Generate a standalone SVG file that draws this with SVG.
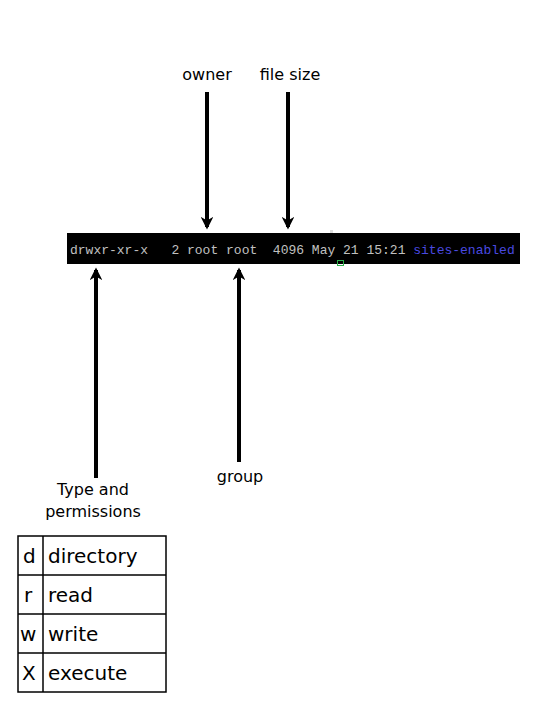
<svg xmlns="http://www.w3.org/2000/svg" width="540" height="720" viewBox="0 0 540 720">
<style>
.lbl{font-family:"DejaVu Sans","Liberation Sans",sans-serif;font-size:16px;fill:#000;text-anchor:middle}
.term{font-family:"Liberation Mono",monospace;font-size:13px;fill:#c0c0c0}
.tbl{font-family:"DejaVu Sans","Liberation Sans",sans-serif;font-size:20px;fill:#000}
.conn{stroke:#000;stroke-width:4;fill:none}
.cell{fill:none;stroke:#000;stroke-width:1.5}
</style>
<defs>
<marker id="ah" viewBox="0 0 10 10" refX="8" refY="5" markerWidth="3.2" markerHeight="3.2" orient="auto" markerUnits="strokeWidth">
<path d="M0,0 L10,5 L0,10 L3,5 z" fill="#000"/>
</marker>
</defs>
<rect width="540" height="720" fill="#fff"/>
<g id="terminal">
<rect x="67" y="233" width="453" height="31" fill="#000"/>
<text class="term" x="70" y="254" xml:space="preserve">drwxr-xr-x   2 root root  4096 May 21 15:21 <tspan fill="#4a4ae0">sites-enabled</tspan></text>
<rect x="330" y="230" width="3" height="3" fill="#ddd"/>
<rect x="337.5" y="260.5" width="6" height="5" fill="none" stroke="#2bb04a" stroke-width="1"/>
</g>
<g id="owner"><text class="lbl" x="207" y="80">owner</text></g>
<g id="filesize"><text class="lbl" x="290" y="80">file size</text></g>
<g id="group"><text class="lbl" x="240" y="482">group</text></g>
<g id="typeperm"><text class="lbl" x="93" y="495">Type and</text><text class="lbl" x="93" y="517">permissions</text></g>
<g id="connectors">
<line class="conn" x1="207" y1="92" x2="207" y2="227" marker-end="url(#ah)"/>
<line class="conn" x1="288" y1="92" x2="288" y2="227" marker-end="url(#ah)"/>
<line class="conn" x1="96" y1="478" x2="96" y2="270" marker-end="url(#ah)"/>
<line class="conn" x1="239" y1="462" x2="239" y2="270" marker-end="url(#ah)"/>
</g>
<g id="legend">
<rect class="cell" x="18" y="536" width="148" height="156"/>
<line class="cell" x1="18" y1="575" x2="166" y2="575"/>
<line class="cell" x1="18" y1="614" x2="166" y2="614"/>
<line class="cell" x1="18" y1="653" x2="166" y2="653"/>
<line class="cell" x1="43" y1="536" x2="43" y2="692"/>
<text class="tbl" x="23" y="563">d</text><text class="tbl" x="48" y="563">directory</text>
<text class="tbl" x="24" y="602">r</text><text class="tbl" x="48" y="602">read</text>
<text class="tbl" x="20" y="641">w</text><text class="tbl" x="48" y="641">write</text>
<text class="tbl" x="22" y="680">X</text><text class="tbl" x="48" y="680">execute</text>
</g>
</svg>
